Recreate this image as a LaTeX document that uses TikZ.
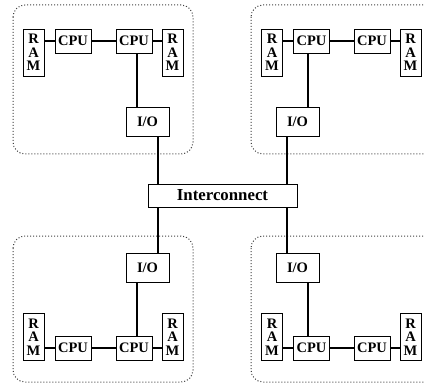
\documentclass[tikz,border=0pt]{standalone}
\usepackage{fontspec}
\setmainfont{Liberation Serif}
\begin{document}
\begin{tikzpicture}[x=1pt,y=-1pt,
  box/.style={draw, line width=0.8pt, inner sep=0pt, font=\fontsize{14.5}{14}\selectfont\bfseries},
  cpubox/.style={box, minimum width=36pt, minimum height=24pt},
  rambox/.style={box, minimum width=21pt, minimum height=47pt, align=center, font=\fontsize{14.5}{13.5}\selectfont\bfseries},
  iobox/.style={box, minimum width=43pt, minimum height=29pt},
  icbox/.style={box, minimum width=149pt, minimum height=23pt, font=\fontsize{16.8}{18}\selectfont\bfseries},
  link/.style={line width=1.6pt},
  group/.style={draw=black!75, line width=1pt, dash pattern=on 1pt off 2pt, rounded corners=12pt}]
\clip (0,0) rectangle (425,387);
% groups
\draw[group] (13,5) rectangle (193,154);
\draw[group] (251,5) rectangle (445,154);
\draw[group] (13,236) rectangle (193,382);
\draw[group] (251,236) rectangle (445,382);
% interconnect
\node[icbox] (ic) at (222.5,195.5) {Interconnect};
% top-left
\node[rambox] (tlr1) at (33.5,52.5) {R\\A\\M};
\node[cpubox] (tlc1) at (73,41) {CPU};
\node[cpubox] (tlc2) at (134,41) {CPU};
\node[rambox] (tlr2) at (172.5,52.5) {R\\A\\M};
\node[iobox] (tlio) at (147.5,121.5) {I/O};
% top-right
\node[rambox] (trr1) at (272,52.5) {R\\A\\M};
\node[cpubox] (trc1) at (311.5,41) {CPU};
\node[cpubox] (trc2) at (372,41) {CPU};
\node[rambox] (trr2) at (410.5,52.5) {R\\A\\M};
\node[iobox] (trio) at (297.5,121.5) {I/O};
% bottom-left
\node[iobox] (blio) at (147.5,267.5) {I/O};
\node[rambox] (blr1) at (33.5,337.25) {R\\A\\M};
\node[cpubox] (blc1) at (73,348.25) {CPU};
\node[cpubox] (blc2) at (134,348.25) {CPU};
\node[rambox] (blr2) at (172.5,337.25) {R\\A\\M};
% bottom-right
\node[iobox] (brio) at (297.5,267.5) {I/O};
\node[rambox] (brr1) at (272,337.25) {R\\A\\M};
\node[cpubox] (brc1) at (311.5,348.25) {CPU};
\node[cpubox] (brc2) at (372,348.25) {CPU};
\node[rambox] (brr2) at (410.5,337.25) {R\\A\\M};
% links top-left
\draw[link] (tlc1.west) -- (tlc1.west -| tlr1.east);
\draw[link] (tlc1.east) -- (tlc2.west);
\draw[link] (tlc2.east) -- (tlc2.east -| tlr2.west);
\draw[link] ([xshift=3pt]tlc2.south) -- ([xshift=3pt]tlc2.south |- tlio.north);
\draw[link] ([xshift=10.5pt]tlio.south) -- ([xshift=10.5pt]tlio.south |- ic.north);
% links top-right
\draw[link] (trc1.west) -- (trc1.west -| trr1.east);
\draw[link] (trc1.east) -- (trc2.west);
\draw[link] (trc2.east) -- (trc2.east -| trr2.west);
\draw[link] ([xshift=-3.5pt]trc1.south) -- ([xshift=-3.5pt]trc1.south |- trio.north);
\draw[link] ([xshift=-10.5pt]trio.south) -- ([xshift=-10.5pt]trio.south |- ic.north);
% links bottom-left
\draw[link] (blc1.west) -- (blc1.west -| blr1.east);
\draw[link] (blc1.east) -- (blc2.west);
\draw[link] (blc2.east) -- (blc2.east -| blr2.west);
\draw[link] ([xshift=3pt]blc2.north) -- ([xshift=3pt]blc2.north |- blio.south);
\draw[link] ([xshift=10.5pt]blio.north) -- ([xshift=10.5pt]blio.north |- ic.south);
% links bottom-right
\draw[link] (brc1.west) -- (brc1.west -| brr1.east);
\draw[link] (brc1.east) -- (brc2.west);
\draw[link] (brc2.east) -- (brc2.east -| brr2.west);
\draw[link] ([xshift=-3.5pt]brc1.north) -- ([xshift=-3.5pt]brc1.north |- brio.south);
\draw[link] ([xshift=-10.5pt]brio.north) -- ([xshift=-10.5pt]brio.north |- ic.south);
\end{tikzpicture}
\end{document}
